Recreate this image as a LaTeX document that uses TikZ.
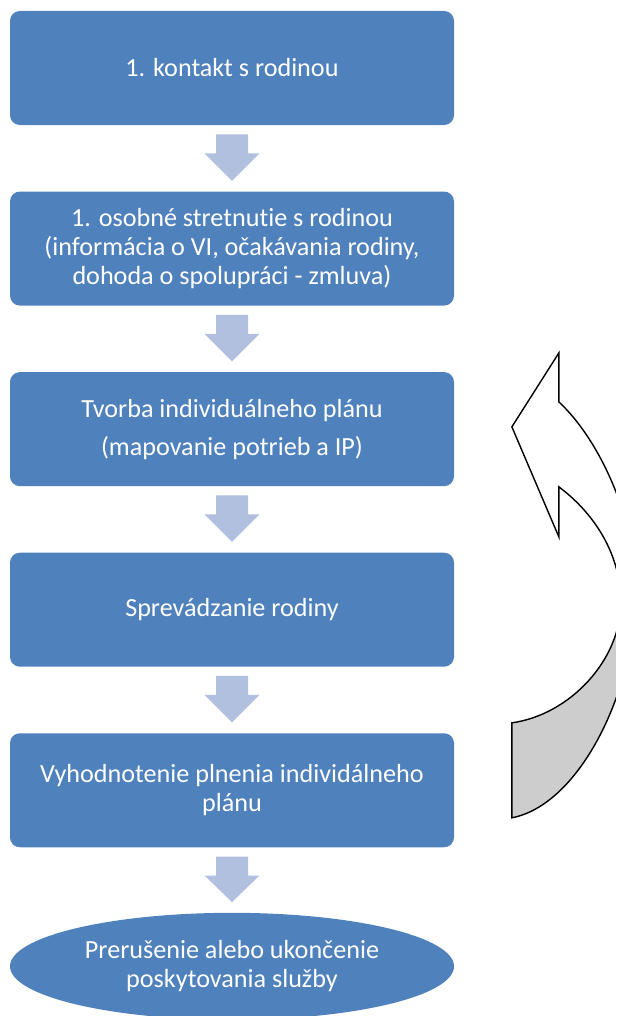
\documentclass[tikz,border=0pt]{standalone}
\usepackage{fontspec}
\setmainfont{Carlito}[Ligatures=NoCommon]
\usepackage{tikz}
\usetikzlibrary{positioning, shapes.geometric, calc}
\definecolor{boxblue}{RGB}{79,129,189}
\definecolor{arrowblue}{RGB}{176,192,222}
\definecolor{backgray}{RGB}{205,205,205}

\begin{document}
\begin{tikzpicture}[
    step_box/.style={rectangle, rounded corners=7pt, fill=boxblue, text=white, inner sep=0pt,
        minimum width=11.1cm, minimum height=2.85cm, align=center,
        font=\fontsize{18.6}{20.6}\selectfont},
    end_ellipse/.style={ellipse, fill=boxblue, text=white, inner sep=0pt,
        minimum width=11.1cm, minimum height=2.675cm, align=center,
        font=\fontsize{18.6}{20.6}\selectfont},
    flow_arrow/.style={fill=arrowblue},
    loop_arrow/.style={draw=black, line width=1pt, line join=miter}
]

    \useasboundingbox (0,0) rectangle (15.4,-25.4);

    % Steps of the service, top to bottom
    \node[step_box] (contact) at (5.8,-1.7) {1. kontakt s rodinou};
    \node[step_box, below=1.65cm of contact] (meeting)
        {1. osobné stretnutie s rodinou\\(informácia o VI, očakávania rodiny,\\dohoda o spolupráci - zmluva)};
    \node[step_box, below=1.65cm of meeting] (plan)
        {Tvorba individuálneho plánu\\[6.4pt](mapovanie potrieb a IP)};
    \node[step_box, below=1.65cm of plan] (support) {Sprevádzanie rodiny};
    \node[step_box, below=1.65cm of support] (evaluation)
        {Vyhodnotenie plnenia individálneho\\plánu};

    % End of the service
    \node[end_ellipse, below=1.625cm of evaluation] (termination)
        {Prerušenie alebo ukončenie\\poskytovania služby};

    % Block arrows between the steps
    \foreach \a/\b in {contact/meeting, meeting/plan, plan/support, support/evaluation, evaluation/termination}
        \fill[flow_arrow] ([xshift=-4mm,yshift=-2.25mm]\a.south) -- ++(8mm,0) -- ++(0,-4.75mm) -- ++(2.875mm,0)
            -- ([yshift=2.625mm]\b.north) -- ([xshift=-6.875mm,yshift=-7mm]\a.south) -- ++(2.875mm,0) -- cycle;

    % Curved arrow back to the plan (cut at the right edge)
    \begin{scope}[x=0.025cm, y=-0.025cm]
        \clip (0,0) rectangle (616,1016);
        % back face
        \filldraw[loop_arrow, fill=backgray] (621,603) .. controls (621,660) and (570,715) .. (512,723)
            -- (512,818) .. controls (580,805) and (636,690) .. (636,590) -- cycle;
        % front face with the head
        \filldraw[loop_arrow, fill=white] (512,427) -- (559,353) -- (559,402)
            .. controls (600,440) and (636,520) .. (636,590) -- (621,603)
            .. controls (621,550) and (590,510) .. (559,487) -- (559,537) -- cycle;
    \end{scope}

\end{tikzpicture}
\end{document}
